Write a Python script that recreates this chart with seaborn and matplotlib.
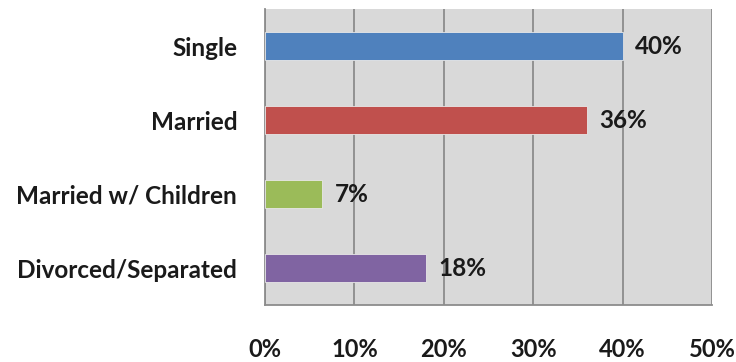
import matplotlib
matplotlib.use("Agg")
import matplotlib.pyplot as plt
import seaborn as sns
import pandas as pd
from matplotlib.ticker import FixedLocator, PercentFormatter

categories = ["Single", "Married", "Married w/ Children", "Divorced/Separated"]
values = [0.40, 0.36, 0.064, 0.18]
value_labels = ["40%", "36%", "7%", "18%"]
colors = ["#4f81bd", "#c0504d", "#9bbb59", "#8064a2"]
x_ticks = [0, 0.1, 0.2, 0.3, 0.4, 0.5]

df = pd.DataFrame({"category": categories, "value": values})

sns.set_style("white")
plt.rcParams["font.family"] = ["Lato", "DejaVu Sans"]

FS = 17.5
fig = plt.figure(figsize=(7.36, 3.62), dpi=100)
ax = fig.add_axes([265 / 736, 57 / 362, 447 / 736, 296 / 362])
ax.set_facecolor("#d9d9d9")

sns.barplot(data=df, y="category", x="value", hue="category", palette=colors,
            orient="h", width=0.39, legend=False, ax=ax, saturation=1,
            edgecolor="#e8e8e8", linewidth=0.6, zorder=3)

for cont, lab in zip(ax.containers, value_labels):
    ax.bar_label(cont, labels=[lab], padding=9, fontsize=FS, fontweight="bold",
                 color="#1a1a1a", zorder=4)

ax.set_xlim(0, 0.5)
ax.set_ylim(3.5, -0.5)
ax.xaxis.set_major_locator(FixedLocator(x_ticks))
ax.xaxis.set_major_formatter(PercentFormatter(1.0, decimals=0))
ax.grid(axis="x", color="#8c8c8c", linewidth=1.3, zorder=1)
ax.grid(axis="y", visible=False)
ax.set_axisbelow(True)

ax.yaxis.set_minor_locator(FixedLocator([-0.5, 0.5, 1.5, 2.5, 3.5]))
ax.tick_params(axis="y", which="major", length=0, pad=20, labelsize=FS)
ax.tick_params(axis="y", which="minor", length=6, color="#8c8c8c", width=1.3)
ax.tick_params(axis="x", which="major", length=4.5, color="#8c8c8c", width=1.3,
               direction="out", pad=19, labelsize=17)
for lab in ax.get_yticklabels() + ax.get_xticklabels():
    lab.set_fontweight("bold")
    lab.set_color("#1a1a1a")

ax.set_xlabel("")
ax.set_ylabel("")
for s in ["top", "right"]:
    ax.spines[s].set_visible(False)
for s in ["left", "bottom"]:
    ax.spines[s].set_color("#8c8c8c")
    ax.spines[s].set_linewidth(1.3)

fig.savefig("out.png", dpi=100)
